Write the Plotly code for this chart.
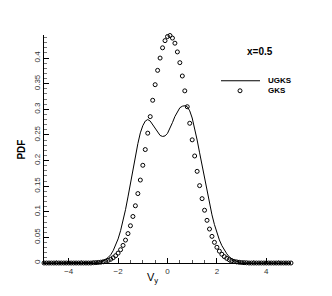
import plotly.graph_objects as go

# velocity grid (0.1 spacing from -5 to 5)
vy = [round(-5 + 0.1 * i, 1) for i in range(101)]

gks_pdf = [0.0] * 20 + [
    0.0005, 0.0007, 0.0011, 0.0016, 0.0024, 0.0036, 0.0052, 0.0073, 0.0103, 0.0142,
    0.0193, 0.0259, 0.0343, 0.0447, 0.0574, 0.0727, 0.0908, 0.1117, 0.1355, 0.1619,
    0.1907, 0.2214, 0.2534, 0.2857, 0.3176, 0.348, 0.376, 0.400, 0.420, 0.434,
    0.442, 0.444, 0.439, 0.429, 0.412, 0.391, 0.365, 0.336, 0.305, 0.2727,
    0.2404, 0.2089, 0.1789, 0.1510, 0.1256, 0.1030, 0.0833, 0.0663, 0.0520, 0.0403,
    0.0307, 0.0231, 0.0171, 0.0125, 0.0090, 0.0064, 0.0045, 0.0031, 0.0021, 0.0014,
    0.0009, 0.0006, 0.0004] + [0.0] * 18

ugks_pdf = [0.0] * 20 + [
    0.0003, 0.0007, 0.0014, 0.0025, 0.004, 0.007, 0.011, 0.016, 0.024, 0.034,
    0.047, 0.063, 0.082, 0.104, 0.129, 0.156, 0.183, 0.209, 0.233, 0.254,
    0.268, 0.277, 0.280, 0.277, 0.270, 0.262, 0.254, 0.249, 0.247, 0.248,
    0.253, 0.262, 0.274, 0.286, 0.296, 0.303, 0.306, 0.307, 0.305, 0.297,
    0.283, 0.263, 0.240, 0.215, 0.190, 0.164, 0.139, 0.115, 0.094, 0.075,
    0.059, 0.045, 0.034, 0.025, 0.018, 0.012, 0.008, 0.005, 0.003, 0.0015,
    0.0007, 0.0003] + [0.0] * 19

x_ticks = [-4, -2, 0, 2, 4]
y_ticks = [0, 0.05, 0.1, 0.15, 0.2, 0.25, 0.3, 0.35, 0.4]

FONT = "Arial, Liberation Sans, sans-serif"

fig = go.Figure()
fig.add_trace(go.Scatter(x=vy, y=ugks_pdf, mode="lines", name="UGKS",
                         line=dict(color="black", width=1), showlegend=False,
                         cliponaxis=False))
fig.add_trace(go.Scatter(x=vy, y=gks_pdf, mode="markers", name="GKS",
                         marker=dict(symbol="circle-open", size=4, color="black",
                                     line=dict(width=1, color="black")),
                         showlegend=False, cliponaxis=False))

# the page body adds an 8px offset; figure is sized to fit the window
OFF = 8
W, H = 324, 288
L, R, T, B = 36, 41, 27, 33.3
pw, ph = W - L - R, H - T - B

def px(xp):  # window pixel -> paper
    return (xp - OFF - L) / pw

def py(yp):
    return (OFF + H - B - yp) / ph

fig.update_layout(
    width=W, height=H,
    margin=dict(l=L, r=R, t=T, b=B, pad=0),
    paper_bgcolor="white", plot_bgcolor="white",
    font=dict(family=FONT, color="black"),
    xaxis=dict(range=[-5, 5], tickvals=x_ticks, showgrid=False, zeroline=False,
               showline=True, linecolor="black", linewidth=1,
               ticks="inside", ticklen=5, tickwidth=1, tickcolor="black",
               tickfont=dict(size=8, color="#333"),
               minor=dict(dtick=0.5, ticks="inside", ticklen=3, tickcolor="#555")),
    yaxis=dict(range=[0, 0.445], tickvals=y_ticks, showgrid=False, zeroline=False,
               showline=True, linecolor="black", linewidth=1,
               ticks="inside", ticklen=5, tickwidth=1, tickcolor="black",
               tickangle=-90, tickfont=dict(size=8, color="#333"),
               minor=dict(dtick=0.01, ticks="inside", ticklen=3, tickcolor="#777")),
    shapes=[
        dict(type="line", xref="paper", yref="paper",
             x0=px(221), x1=px(260), y0=py(80.7), y1=py(80.7),
             line=dict(color="black", width=1)),
        dict(type="circle", xref="paper", yref="paper",
             xsizemode="pixel", ysizemode="pixel",
             xanchor=px(240), yanchor=py(90.7),
             x0=-2, x1=2, y0=-2, y1=2,
             line=dict(color="black", width=1)),
    ],
    annotations=[
        dict(text="<b>x=0.5</b>", xref="paper", yref="paper", x=px(259.7), y=py(51.7),
             showarrow=False, font=dict(size=10), xanchor="center", yanchor="middle"),
        dict(text="<b>UGKS</b>", xref="paper", yref="paper", x=px(266), y=py(80.7),
             showarrow=False, font=dict(size=8), xanchor="left", yanchor="middle"),
        dict(text="<b>GKS</b>", xref="paper", yref="paper", x=px(266), y=py(90.7),
             showarrow=False, font=dict(size=8), xanchor="left", yanchor="middle"),
        dict(text="<b>PDF</b>", xref="paper", yref="paper", x=px(21.7), y=py(149.7),
             showarrow=False, font=dict(size=10), textangle=-90,
             xanchor="center", yanchor="middle"),
        dict(text="V<sub>y</sub>", xref="paper", yref="paper", x=px(152), y=py(278),
             showarrow=False, font=dict(size=11), xanchor="center", yanchor="middle"),
    ],
)

fig.write_html("out.html")
